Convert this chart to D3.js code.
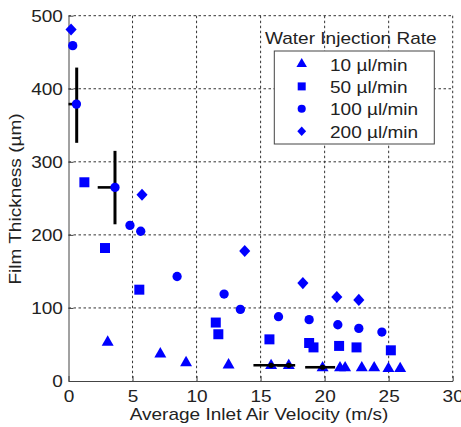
<!DOCTYPE html>
<html>
<head>
<meta charset="utf-8">
<script src="https://cdn.jsdelivr.net/npm/d3@7"></script>
<style>
  body { margin: 0; background: #fff; }
  text { font-family: "Liberation Sans", Arial, sans-serif; fill: #222; }
</style>
</head>
<body>
<div id="chart"></div>
<script>
// ---- data ----
const seriesNames = ["10 µl/min", "50 µl/min", "100 µl/min", "200 µl/min"];

// 10 ul/min (triangles)
const tri_x = [3.06, 7.17, 9.18, 12.5, 15.82, 17.2, 19.84, 21.2, 21.6, 22.9, 23.87, 24.98, 25.9];
const tri_y = [53, 37, 25, 22, 21, 21, 18, 18, 18, 18, 18, 17, 17];

// 50 ul/min (squares)
const sq_x = [1.24, 2.85, 5.53, 11.5, 11.7, 15.69, 18.79, 19.13, 21.13, 22.49, 25.17];
const sq_y = [272, 182, 125, 80, 64, 57, 52, 46, 48, 46, 42];

// 100 ul/min (circles)
const circ_x = [0.33, 0.62, 3.63, 4.8, 5.64, 8.48, 12.15, 13.42, 16.4, 18.79, 21.03, 22.67, 24.47];
const circ_y = [459, 379, 265, 213, 205, 143, 119, 98, 88, 84, 77, 72, 67];

// 200 ul/min (diamonds)
const dia_x = [0.2, 5.74, 13.76, 18.3, 20.95, 22.67];
const dia_y = [481, 255, 178, 134, 115, 111];

// error bars
const err_x = [0.64, 3.63, 15.82, 17.2, 19.84];
const err_y = [379, 265, 21.5, 21.5, 18.8];
const err_xlo = [0, 2.28, 14.44, 16.3, 18.48];
const err_xhi = [0.74, 3.63, 17.2, 17.7, 20.82];
const err_ylo = [326, 214.5, 21.5, 21.5, 18.8];
const err_yhi = [429, 315, 21.5, 21.5, 18.8];

const xTicks = [0, 5, 10, 15, 20, 25, 30];
const yTicks = [0, 100, 200, 300, 400, 500];

// ---- layout ----
const W = 461, H = 427;
const stretch = 1.12; // glyphs in the original are a bit wide

const svg = d3.select('#chart').append('svg')
    .attr('width', W)
    .attr('height', H);

const x = d3.scaleLinear().domain([0, 30]).range([68.5, 452.7]);
const y = d3.scaleLinear().domain([0, 500]).range([381, 15.7]);

// grid (dotted)
const grid = svg.append('g')
    .attr('stroke', '#333')
    .attr('stroke-width', 1)
    .attr('stroke-dasharray', '2.5,2.5');
grid.selectAll('.gx').data(xTicks.slice(1)).enter().append('line')
    .attr('x1', d => x(d)).attr('x2', d => x(d))
    .attr('y1', y(500)).attr('y2', y(0));
grid.selectAll('.gy').data(yTicks.slice(1)).enter().append('line')
    .attr('x1', x(0)).attr('x2', x(30))
    .attr('y1', d => y(d)).attr('y2', d => y(d));

// axes
const xAxis = svg.append('g')
    .attr('transform', `translate(0,${y(0)})`)
    .call(d3.axisBottom(x).tickValues(xTicks).tickSizeInner(-5).tickSizeOuter(0).tickPadding(9));
const yAxis = svg.append('g')
    .attr('transform', `translate(${x(0)},0)`)
    .call(d3.axisLeft(y).tickValues(yTicks).tickSizeInner(-5).tickSizeOuter(0).tickPadding(5));

[xAxis, yAxis].forEach(function(a) {
    a.select('.domain').attr('stroke', '#444');
    a.selectAll('.tick line').attr('stroke', '#444');
    a.selectAll('.tick text')
        .attr('font-size', 17)
        .attr('font-family', '"Liberation Sans", Arial, sans-serif')
        .attr('fill', '#222')
        .attr('transform', `scale(${stretch},1)`);
});

// axis titles
svg.append('text')
    .attr('transform', `translate(259,420) scale(${stretch},1)`)
    .attr('text-anchor', 'middle')
    .attr('font-size', 17)
    .text('Average Inlet Air Velocity (m/s)');

svg.append('text')
    .attr('transform', `translate(21,199) rotate(-90) scale(${stretch},1)`)
    .attr('text-anchor', 'middle')
    .attr('font-size', 17)
    .text('Film Thickness (µm)');

// markers
const diamondShape = {
    draw: function(ctx, size) {
        const h = Math.sqrt(size) * 0.62, w = h * 0.92;
        ctx.moveTo(0, -h); ctx.lineTo(w, 0); ctx.lineTo(0, h); ctx.lineTo(-w, 0); ctx.closePath();
    }
};
const blue = '#0000ff';
const series = [
    { xs: tri_x, ys: tri_y, type: d3.symbolTriangle, size: 62, lsize: 48 },
    { xs: sq_x, ys: sq_y, type: d3.symbolSquare, size: 100, lsize: 64 },
    { xs: circ_x, ys: circ_y, type: d3.symbolCircle, size: 68, lsize: 52 },
    { xs: dia_x, ys: dia_y, type: diamondShape, size: 95, lsize: 60 }
];

// error bars: the two tall ones sit under their markers, the flat ones on top
const ebBack = svg.append('g').attr('stroke', '#000');
const marks = svg.append('g');
const ebFront = svg.append('g').attr('stroke', '#000');

series.forEach(function(s) {
    const pts = s.xs.map((v, i) => [v, s.ys[i]]);
    marks.selectAll(null).data(pts).enter().append('path')
        .attr('d', d3.symbol().type(s.type).size(s.size))
        .attr('transform', d => `translate(${x(d[0])},${y(d[1])})`)
        .attr('fill', blue);
});

err_x.forEach(function(cx, i) {
    const g = err_yhi[i] !== err_ylo[i] ? ebBack : ebFront;
    if (err_yhi[i] !== err_ylo[i]) {
        g.append('line')
            .attr('x1', x(cx)).attr('x2', x(cx))
            .attr('y1', y(err_ylo[i])).attr('y2', y(err_yhi[i]))
            .attr('stroke-width', 3);
    }
    g.append('line')
        .attr('x1', x(err_xlo[i])).attr('x2', x(err_xhi[i]))
        .attr('y1', y(err_y[i])).attr('y2', y(err_y[i]))
        .attr('stroke-width', 2.6);
    if (g === ebFront) {
        g.append('circle')
            .attr('cx', x(cx)).attr('cy', y(err_y[i]))
            .attr('r', 2.6).attr('fill', '#000').attr('stroke', 'none');
    }
});

// legend
svg.append('text')
    .attr('transform', `translate(265,44) scale(${stretch},1)`)
    .attr('font-size', 17)
    .text('Water Injection Rate');

svg.append('rect')
    .attr('x', 274.3).attr('y', 51)
    .attr('width', 160).attr('height', 93)
    .attr('fill', '#fff')
    .attr('stroke', '#444')
    .attr('stroke-width', 1);

const rowY = d3.scaleLinear().domain([0, 3]).range([64, 131.2]);
seriesNames.forEach(function(name, i) {
    svg.append('path')
        .attr('d', d3.symbol().type(series[i].type).size(series[i].lsize))
        .attr('transform', `translate(301.7,${rowY(i)})`)
        .attr('fill', blue);
    svg.append('text')
        .attr('transform', `translate(330,${rowY(i) + 6.5}) scale(${stretch},1)`)
        .attr('font-size', 17)
        .text(name);
});
</script>
</body>
</html>
